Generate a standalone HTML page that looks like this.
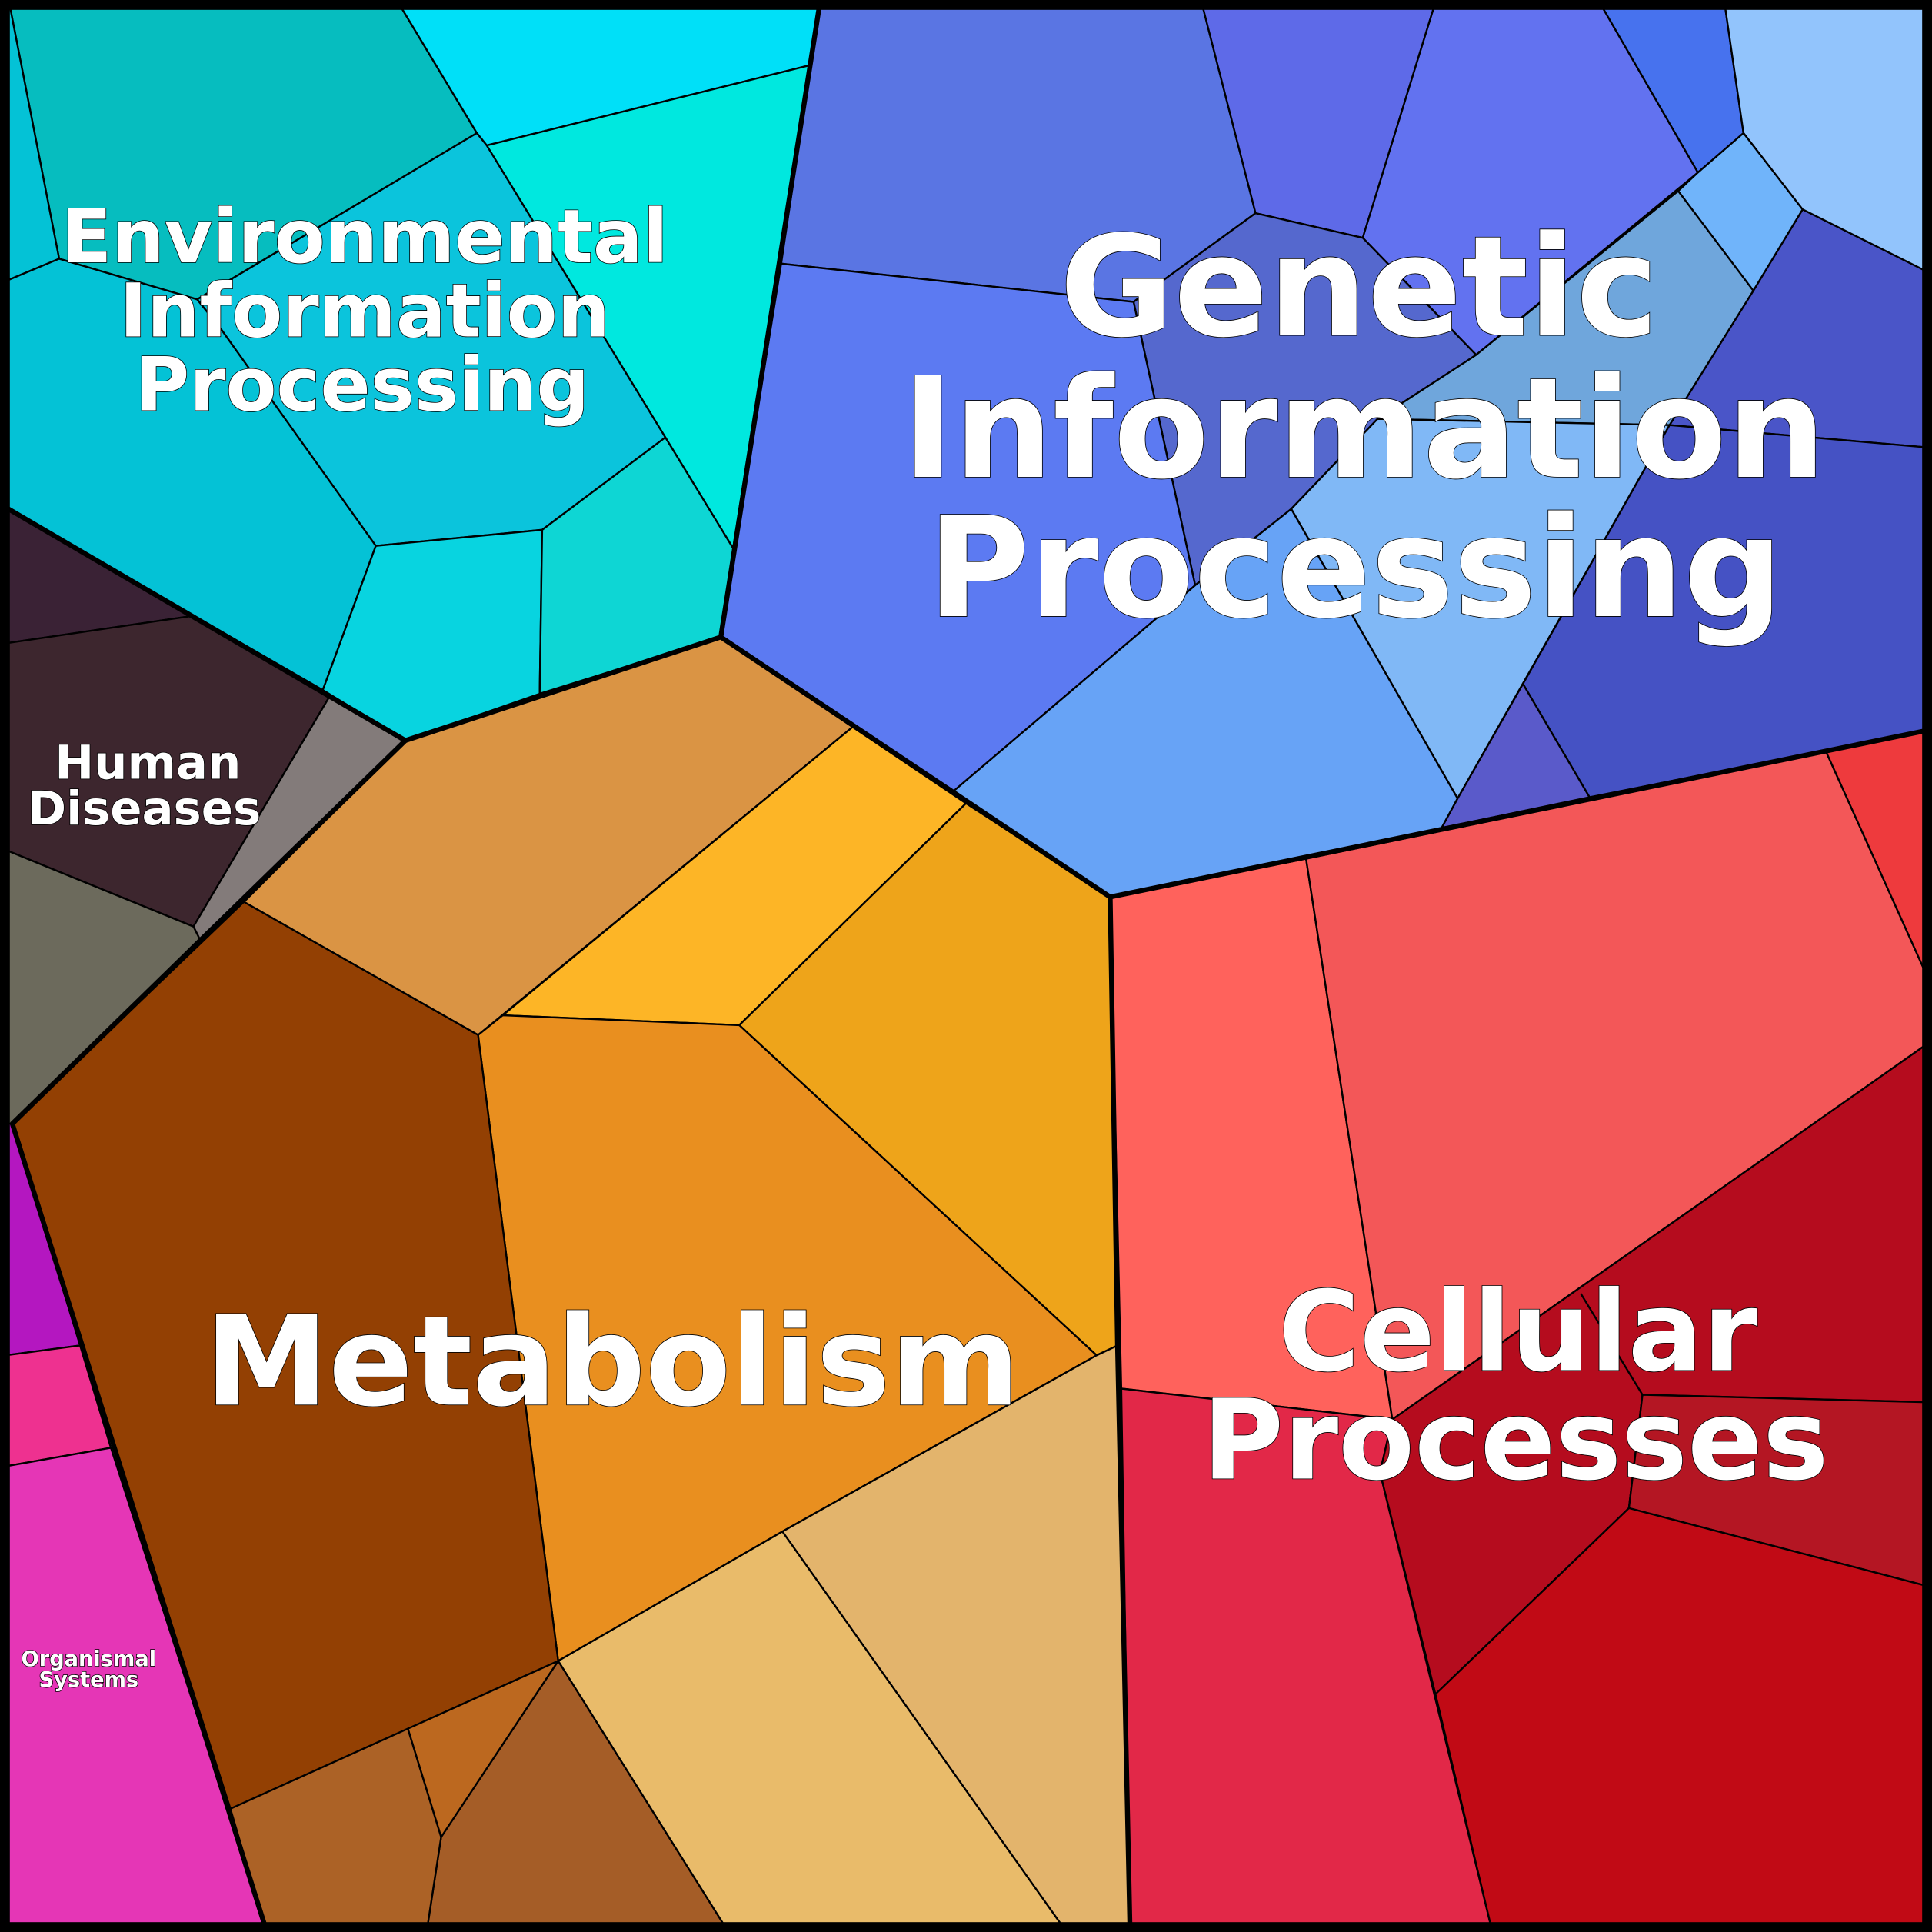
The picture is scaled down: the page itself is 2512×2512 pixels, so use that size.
<!DOCTYPE html>
<html><head><meta charset="utf-8"><style>
html,body{margin:0;padding:0;background:#fff}
svg{display:block}
text{font-family:"DejaVu Sans","Liberation Sans",sans-serif;font-weight:bold;fill:#fff;stroke:#000;stroke-width:1;paint-order:stroke;text-anchor:middle}
</style></head><body>
<svg width="2512" height="2512" viewBox="0 0 1568 1568" xmlns="http://www.w3.org/2000/svg">
<g stroke="#000" stroke-width="1.5" stroke-linejoin="round">
<polygon fill="#06BDBF" points="8,5 325,5 387,108 160,243 48,210"/>
<polygon fill="#04C2D6" points="5,5 8,5 48,210 5,228"/>
<polygon fill="#00E0F8" points="325,5 665,5 657,53 395,118 387,108"/>
<polygon fill="#00E8DF" points="395,118 657,53 595,445 540,355"/>
<polygon fill="#0BC4DC" points="387,108 395,118 540,355 440,430 305,443 180,268 160,243"/>
<polygon fill="#04C2D6" points="5,228 48,210 160,243 180,268 305,443 262,560 5,412"/>
<polygon fill="#08D4E0" points="305,443 440,430 438,563 329,601 262,560"/>
<polygon fill="#0ED6D4" points="440,430 540,355 595,445 585,517 438,563"/>
<polygon fill="#3A2235" points="5,412 155,500 5,522"/>
<polygon fill="#3D262E" points="5,522 155,500 267,566 157,752 5,690"/>
<polygon fill="#837B7A" points="267,566 329,601 162,762 157,752"/>
<polygon fill="#6C6A5C" points="5,690 157,752 162,762 10,912 5,912"/>
<polygon fill="#5A75E3" points="665,5 976,5 1019,173 920,245 634,214"/>
<polygon fill="#5E6AE8" points="976,5 1164,5 1106,193 1019,173"/>
<polygon fill="#6272F0" points="1164,5 1300,5 1378,140 1198,288 1106,193"/>
<polygon fill="#4772EE" points="1300,5 1400,5 1415,108 1378,140"/>
<polygon fill="#92C4FC" points="1400,5 1563,5 1563,220 1463,170 1415,108"/>
<polygon fill="#70B4FA" points="1378,140 1415,108 1463,170 1423,236 1362,155"/>
<polygon fill="#6FA6DC" points="1198,288 1362,155 1423,236 1355,345 1118,340"/>
<polygon fill="#5568CE" points="1019,173 1106,193 1198,288 1118,340 1048,413 970,475 920,245"/>
<polygon fill="#5C7AF2" points="634,214 920,245 970,475 774,642 585,517"/>
<polygon fill="#67A3F6" points="970,475 1048,413 1183,648 1170,672 901,728 774,642"/>
<polygon fill="#80B8F6" points="1048,413 1118,340 1355,345 1183,648"/>
<polygon fill="#4A55C8" points="1423,236 1463,170 1563,220 1563,363 1355,345"/>
<polygon fill="#4552C4" points="1355,345 1563,363 1563,593 1290,647 1236,555"/>
<polygon fill="#5A5ACA" points="1236,555 1290,647 1170,672 1183,648"/>
<polygon fill="#DA9444" points="329,601 585,517 692,590 388,840 198,732"/>
<polygon fill="#FDB526" points="692,590 784,652 600,832 408,824"/>
<polygon fill="#EEA41A" points="784,652 901,728 907,1092 890,1100 600,832"/>
<polygon fill="#E98F1F" points="408,824 600,832 890,1100 635,1243 453,1348 388,840"/>
<polygon fill="#934003" points="198,732 388,840 453,1348 187,1468 10,912"/>
<polygon fill="#E3B46C" points="890,1100 907,1092 917,1563 862,1563 635,1243"/>
<polygon fill="#E9BB6A" points="635,1243 862,1563 588,1563 453,1348"/>
<polygon fill="#A55D27" points="453,1348 588,1563 347,1563 358,1491"/>
<polygon fill="#BC681F" points="331,1403 453,1348 358,1491"/>
<polygon fill="#AC6226" points="187,1468 331,1403 358,1491 347,1563 215,1563"/>
<polygon fill="#B417C0" points="5,912 10,912 65,1092 5,1100"/>
<polygon fill="#EE3190" points="5,1100 65,1092 90,1175 5,1190"/>
<polygon fill="#E536B6" points="5,1190 90,1175 215,1563 5,1563"/>
<polygon fill="#FF625C" points="901,728 1060,697 1130,1152 910,1127"/>
<polygon fill="#F35758" points="1060,697 1482,610 1563,790 1563,848 1130,1152"/>
<polygon fill="#EE3A3D" points="1482,610 1563,593 1563,790"/>
<polygon fill="#E22848" points="910,1127 1130,1152 1120,1195 1210,1563 917,1563"/>
<polygon fill="#B50C1E" points="1130,1152 1563,848 1563,1138 1333,1132 1322,1224 1165,1375 1120,1195"/>
<polygon fill="#B41623" points="1333,1132 1563,1138 1563,1287 1322,1224"/>
<polygon fill="#C10A15" points="1322,1224 1563,1287 1563,1563 1210,1563 1165,1375"/>
<line x1="1283" y1="1050" x2="1333" y2="1132"/>
</g>
<g fill="none" stroke="#000" stroke-width="4" stroke-linejoin="round">
<polyline points="665,5 585,517 329,601 5,412"/>
<polyline points="329,601 10,912 215,1563"/>
<polyline points="585,517 901,728 1563,593"/>
<polyline points="901,728 907,1092 917,1563"/>
</g>
<rect x="4" y="4" width="1560" height="1560" fill="none" stroke="#000" stroke-width="8"/>
<text font-size="60" x="296" y="213">Environmental</text>
<text font-size="60" x="296" y="273">Information</text>
<text font-size="60" x="294" y="333">Processing</text>
<text font-size="113" stroke-width="1.5" x="1103" y="272">Genetic</text>
<text font-size="113" stroke-width="1.5" x="1107" y="387">Information</text>
<text font-size="113" stroke-width="1.5" x="1100" y="500">Processing</text>
<text font-size="38" x="120" y="632">Human</text>
<text font-size="38" x="117" y="669">Diseases</text>
<text font-size="101" stroke-width="1.5" x="497" y="1140">Metabolism</text>
<text font-size="90" stroke-width="1.5" x="1232" y="1112">Cellular</text>
<text font-size="90" stroke-width="1.5" x="1230" y="1200">Processes</text>
<text font-size="17" stroke-width="0.6" x="72" y="1352">Organismal</text>
<text font-size="17" stroke-width="0.6" x="72" y="1369">Systems</text>
</svg>
</body></html>
